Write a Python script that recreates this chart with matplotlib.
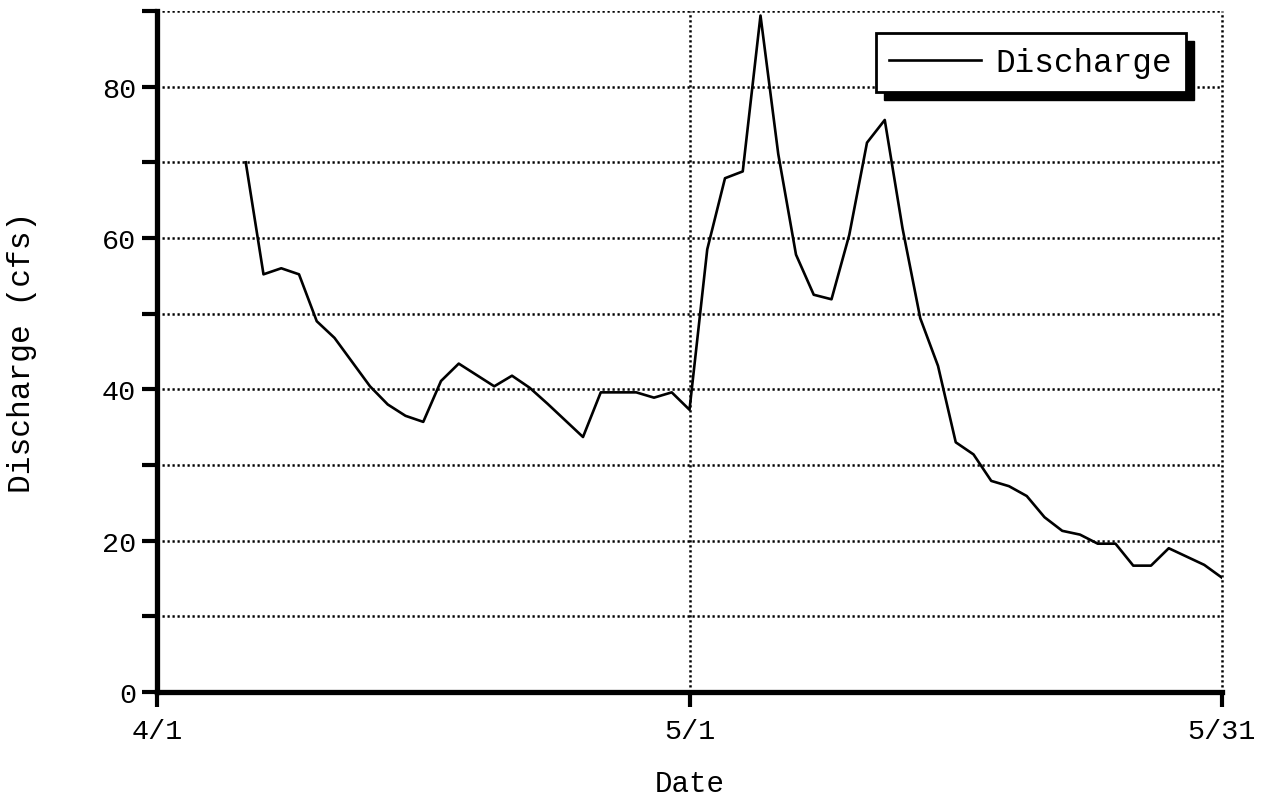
import matplotlib
matplotlib.use("Agg")
import matplotlib.pyplot as plt
from matplotlib.patches import Rectangle
from matplotlib.ticker import FixedLocator, NullFormatter

plt.rcParams['font.family'] = ['Liberation Mono', 'DejaVu Sans Mono']

# Days since 4/1 (4/6 .. 5/31)
days = list(range(5, 61))
discharge = [70.0, 55.2, 56.0, 55.2, 49.0, 46.8, 43.6, 40.4, 38.0, 36.5,
             35.7, 41.1, 43.4, 41.9, 40.4, 41.8, 40.2, 38.1, 35.9, 33.7,
             39.6, 39.6, 39.6, 38.9, 39.6, 37.3, 58.5, 67.9, 68.8, 89.4,
             71.1, 57.8, 52.5, 51.9, 60.4, 72.6, 75.6, 61.3, 49.4, 43.1,
             33.0, 31.4, 27.9, 27.2, 25.9, 23.1, 21.3, 20.8, 19.6, 19.6,
             16.7, 16.7, 19.0, 17.9, 16.8, 15.1]
xtick_pos = [0, 30, 60]
xtick_labels = ['4/1', '5/1', '5/31']
ytick_major = [0, 20, 40, 60, 80]
ytick_minor = [10, 30, 50, 70, 90]

fig = plt.figure(figsize=(12.75, 8.03), dpi=100)
ax = fig.add_axes([157/1275, 1 - 693/803, (1222-157)/1275, (693-12)/803])

ax.plot(days, discharge, color='black', lw=1.9, label='Discharge', zorder=3)

ax.set_xlim(0, 60)
ax.set_ylim(0, 90)
ax.set_xticks(xtick_pos)
ax.set_xticklabels(xtick_labels)
ax.yaxis.set_major_locator(FixedLocator(ytick_major))
ax.yaxis.set_minor_locator(FixedLocator(ytick_minor))
ax.yaxis.set_minor_formatter(NullFormatter())

for sp in ['top', 'right']:
    ax.spines[sp].set_visible(False)
for sp in ['left', 'bottom']:
    ax.spines[sp].set_linewidth(3.8)
    ax.spines[sp].set_zorder(4)

ax.tick_params(axis='both', which='both', direction='out', length=11, width=3,
               labelsize=20.5, color='black')
ax.tick_params(axis='y', pad=4)
ax.tick_params(axis='x', pad=8)

grid_kw = dict(color='black', lw=1.8, linestyle=(0, (0.9, 1.1)))
ax.grid(True, axis='y', which='both', **grid_kw)
ax.grid(True, axis='x', which='major', **grid_kw)
for gl in ax.get_xgridlines() + ax.get_ygridlines():
    gl.set_clip_on(False)

ax.set_xlabel('Date', fontsize=21)
ax.set_ylabel('Discharge (cfs)', fontsize=22.5)
ax.xaxis.set_label_coords(0.5, -0.113)
ax.yaxis.set_label_coords(-0.113, 0.5)

leg = ax.legend(loc='upper right', bbox_to_anchor=(0.966, 0.967), borderaxespad=0,
                fontsize=23.5, fancybox=False, frameon=True, handlelength=2.8,
                handletextpad=0.45, borderpad=0.42)
leg.get_frame().set_edgecolor('black')
leg.get_frame().set_linewidth(2.0)
leg.get_frame().set_alpha(1)
leg.set_zorder(6)

fig.canvas.draw()
bb = leg.get_window_extent()
off = 8
inv = ax.transAxes.inverted()
(x0, y0) = inv.transform((bb.x0 + off, bb.y0 - off))
(x1, y1) = inv.transform((bb.x1 + off, bb.y1 - off))
ax.add_patch(Rectangle((x0, y0), x1 - x0, y1 - y0, transform=ax.transAxes,
                       facecolor='black', edgecolor='black', zorder=5.5, clip_on=False))

fig.savefig('out.png', dpi=100, facecolor='white')
